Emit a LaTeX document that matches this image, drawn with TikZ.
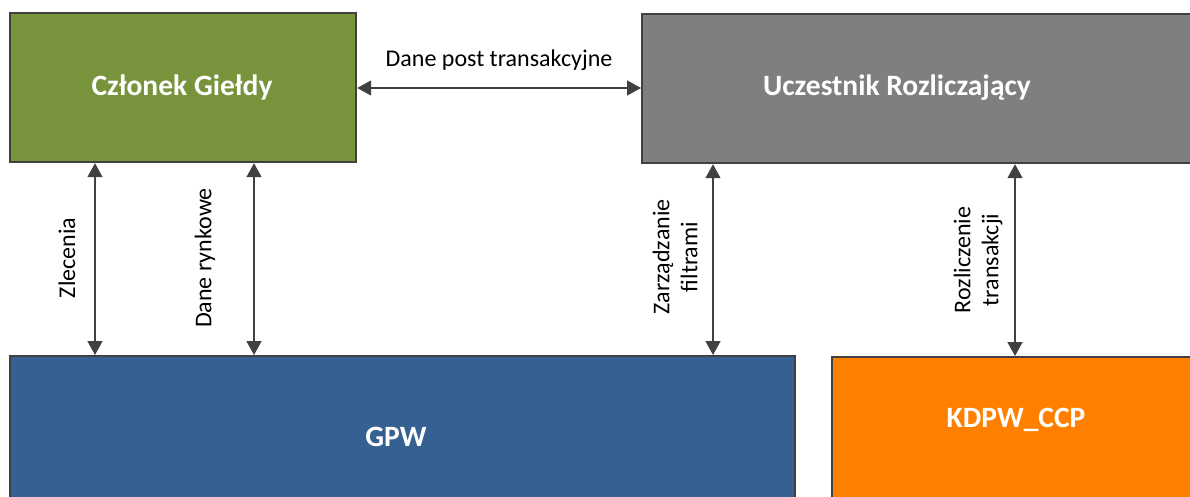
\documentclass[tikz,border=0pt]{standalone}
\usepackage{fontspec}
\setmainfont{Carlito}
\usetikzlibrary{arrows.meta}
\definecolor{cgreen}{HTML}{77933C}
\definecolor{cgray}{HTML}{7F7F7F}
\definecolor{cblue}{HTML}{366092}
\definecolor{corange}{HTML}{FF8000}
\definecolor{cline}{HTML}{404040}
\tikzset{
  box/.style={draw=cline, line width=2.2pt, inner sep=0pt, anchor=north west},
  title/.style={text=white, font=\bfseries\fontsize{29.5}{34}\selectfont},
  lbl/.style={text=black, font=\fontsize{24}{28}\selectfont, align=center},
  arr/.style={draw=cline, line width=1.4pt, {Triangle[length=14pt,width=15pt]}-{Triangle[length=14pt,width=15pt]}}
}
\begin{document}
\begin{tikzpicture}[x=1pt,y=-1pt]
\useasboundingbox (0,0) rectangle (1190,497);
\clip (0,0) rectangle (1190,497);
\node[box, fill=cgreen, minimum width=346pt, minimum height=149pt] (cg) at (9,12) {};
\node[box, fill=cgray, minimum width=570pt, minimum height=149pt] (ur) at (641,13) {};
\node[box, fill=cblue, minimum width=785pt, minimum height=170pt] (gpw) at (9,355) {};
\node[box, fill=corange, minimum width=380pt, minimum height=170pt] (kd) at (831,356) {};
\node[title] (tcg) at (182,87) {Członek Giełdy};
\node[title] (tur) at (897,88) {Uczestnik Rozliczający};
\node[title] (tgpw) at (396,437) {GPW};
\node[title] (tkd) at (1016,420) {KDPW\_CCP};
\coordinate (h) at (0,88);
\coordinate (a1) at (95,0);
\coordinate (a2) at (254,0);
\coordinate (a3) at (713,0);
\coordinate (a4) at (1015,0);
\draw[arr] (cg.east |- h) -- (ur.west |- h);
\draw[arr] (cg.south -| a1) -- (gpw.north -| a1);
\draw[arr] (cg.south -| a2) -- (gpw.north -| a2);
\draw[arr] (ur.south -| a3) -- (gpw.north -| a3);
\draw[arr] (ur.south -| a4) -- (kd.north -| a4);
\node[lbl] (l0) at (499,60) {Dane post transakcyjne};
\node[lbl, rotate=90] (l1) at (67,258) {Zlecenia};
\node[lbl, rotate=90] (l2) at (205,258) {Dane rynkowe};
\node[lbl, rotate=90] (l3) at (675,257) {Zarządzanie\\filtrami};
\node[lbl, rotate=90] (l4) at (978,260) {Rozliczenie\\transakcji};
\end{tikzpicture}
\end{document}
